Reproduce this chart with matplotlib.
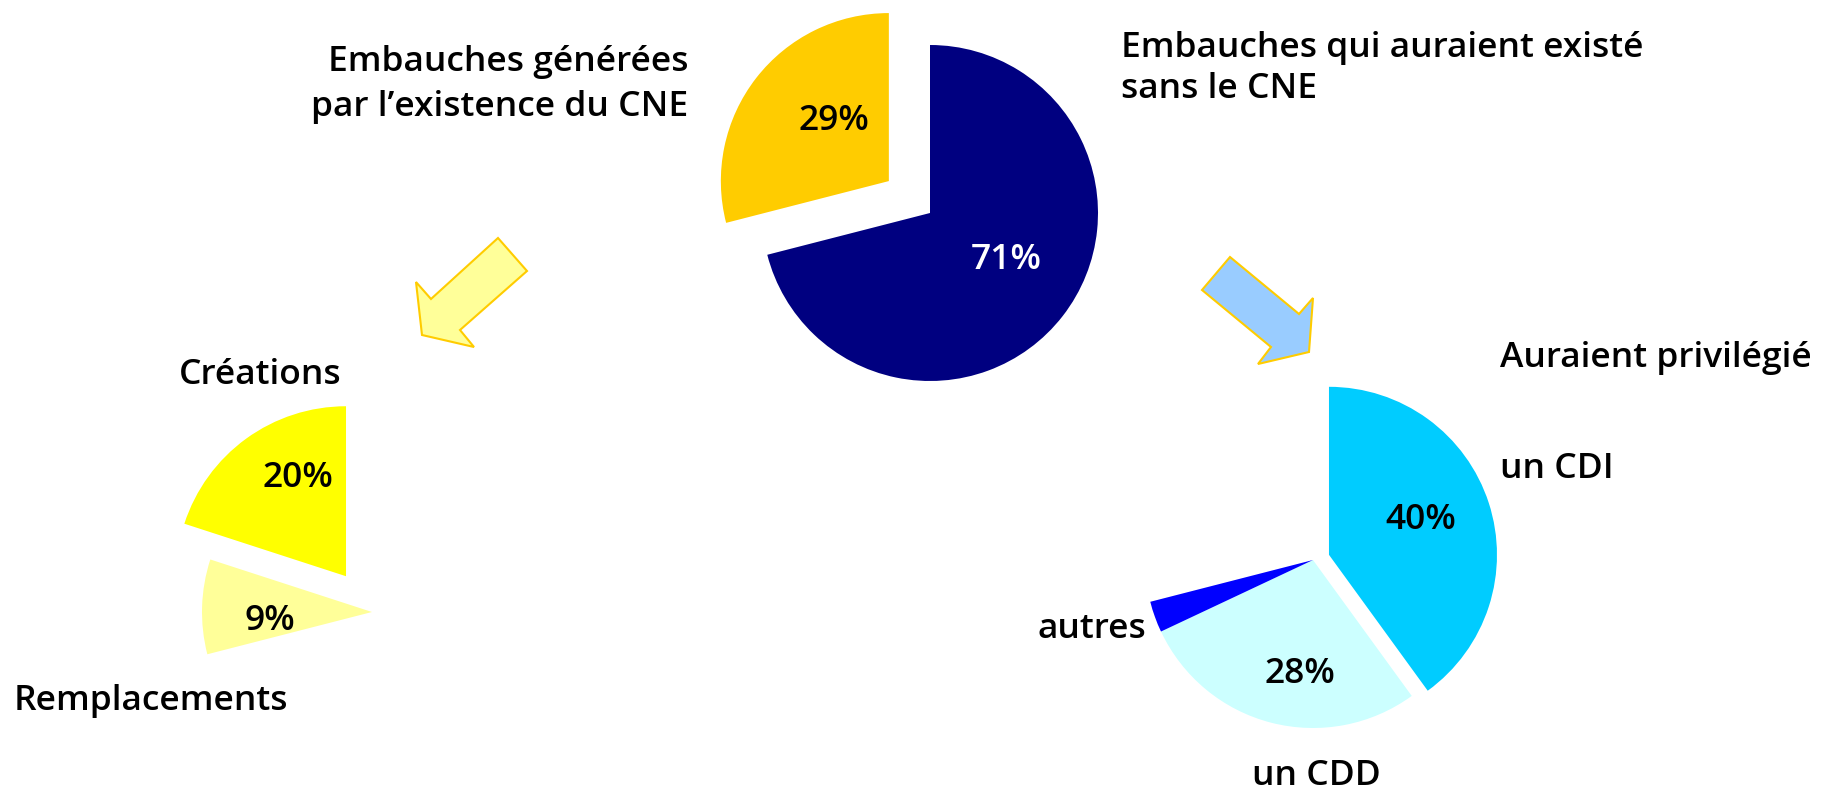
import matplotlib.pyplot as plt
from matplotlib.patches import Polygon

plt.rcParams['font.family'] = ['Open Sans', 'DejaVu Sans']

W, H = 1845, 792

# embauches en CNE : générées par le CNE / auraient existé sans
top_values = [29, 71]
top_colors = ['#FFCC00', '#000080']
top_pct_colors = ['black', 'white']

# embauches générées : créations / remplacements (reste invisible)
gen_values = [20, 9, 71]
gen_colors = ['#FFFF00', '#FFFF99', 'none']

# embauches qui auraient existé : CDI / CDD / autres (reste invisible)
alt_values = [40, 28, 3, 29]
alt_colors = ['#00CCFF', '#CCFFFF', '#0000FF', 'none']


def Y(y):
    # coordonnées image (y vers le bas) -> axes (y vers le haut), petit décalage
    return H - y - 3


fig = plt.figure(figsize=(W / 100, H / 100), dpi=100)
ax = fig.add_axes([0, 0, 1, 1])

wp = dict(linewidth=0)

# camembert du haut
r = 168
ax.pie(top_values, colors=top_colors, startangle=90, counterclock=True,
       explode=[0.31 * r, 0], radius=r, center=(930, H - 213),
       wedgeprops=wp, frame=True)

# camembert en bas a gauche
r2 = 170
ax.pie(gen_values, colors=gen_colors, startangle=90, counterclock=True,
       explode=[0.26 * r2, 0, 0], radius=r2, center=(372, H - 612),
       wedgeprops=wp, frame=True)

# camembert en bas a droite
r3 = 168
ax.pie(alt_values, colors=alt_colors, startangle=90, counterclock=False,
       explode=[0.10 * r3, 0, 0, 0], radius=r3, center=(1313, H - 560),
       wedgeprops=wp, frame=True)

# pourcentages
pkw = dict(fontsize=25.5, fontweight='semibold', ha='center', va='center')
pct_pos = [(834, 118), (1006, 257)]
for v, (x, y), c in zip(top_values, pct_pos, top_pct_colors):
    ax.text(x, Y(y), f'{v}%', color=c, **pkw)
for v, (x, y) in zip(gen_values[:2], [(298, 475), (270, 618)]):
    ax.text(x, Y(y), f'{v}%', **pkw)
for v, (x, y) in zip(alt_values[:2], [(1421, 517), (1300, 671)]):
    ax.text(x, Y(y), f'{v}%', **pkw)

# libellés
kw = dict(fontsize=25.5, fontweight='semibold', va='center')
ax.text(688, Y(59), 'Embauches générées', ha='right', **kw)
ax.text(688, Y(104), 'par l\u2019existence du CNE', ha='right', **kw)
ax.text(1121, Y(45), 'Embauches qui auraient existé', ha='left', **kw)
ax.text(1121, Y(86), 'sans le CNE', ha='left', **kw)
ax.text(179, Y(372), 'Créations', ha='left', **kw)
ax.text(14, Y(698), 'Remplacements', ha='left', **kw)
ax.text(1500, Y(355), 'Auraient privilégié', ha='left', **kw)
ax.text(1500, Y(466), 'un CDI', ha='left', **kw)
ax.text(1146, Y(626), 'autres', ha='right', **kw)
ax.text(1252, Y(773), 'un CDD', ha='left', **kw)

# flèches
left_arrow = [(498, 238), (527, 271), (460, 330), (474, 347), (422, 335),
              (416, 282), (431, 299)]
right_arrow = [(1230, 257), (1299, 314), (1313, 298), (1309, 352),
               (1258, 364), (1271, 347), (1202, 290)]
ax.add_patch(Polygon([(x, H - y) for x, y in left_arrow], closed=True,
                     facecolor='#FFFF99', edgecolor='#FFCC00', linewidth=1.5))
ax.add_patch(Polygon([(x, H - y) for x, y in right_arrow], closed=True,
                     facecolor='#99CCFF', edgecolor='#FFCC00', linewidth=1.5))

ax.set_xlim(0, W)
ax.set_ylim(0, H)
ax.axis('off')

fig.savefig('out.png', dpi=100)
